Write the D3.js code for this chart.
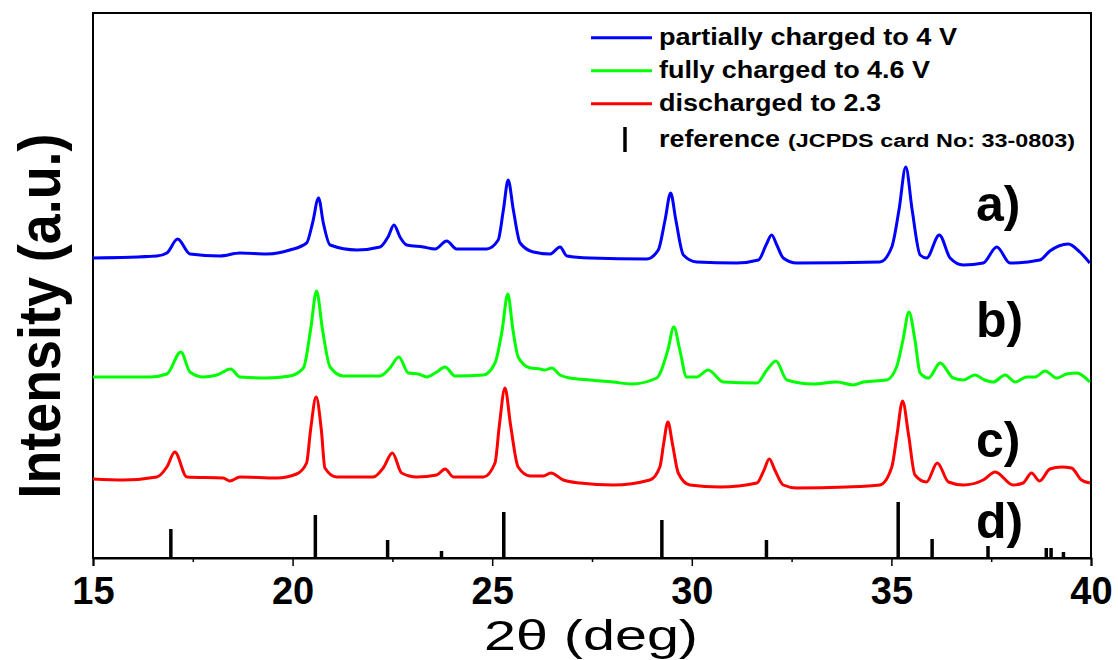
<!DOCTYPE html>
<html>
<head>
<meta charset="utf-8">
<script src="https://cdn.jsdelivr.net/npm/d3@7"></script>
<style>
  html, body { margin: 0; padding: 0; background: #fff; }
  svg { display: block; font-family: "Liberation Sans", Arial, sans-serif; }
</style>
</head>
<body>
<svg id="chart" width="1118" height="660"></svg>
<script>
// XRD patterns, 2θ in degrees; intensities are stacked (offsets included), arbitrary units.
const thetaA = [15.0,16.6,16.85,17.12,17.43,18.18,18.68,19.35,19.93,20.35,20.5,20.65,20.77,20.94,21.61,22.19,22.39,22.54,22.69,22.86,23.27,23.57,23.86,24.11,24.86,25.15,25.28,25.4,25.53,25.7,26.03,26.45,26.7,26.87,27.45,28.87,29.16,29.33,29.47,29.6,29.79,30.12,31.12,31.67,31.86,32.0,32.13,32.29,32.63,34.71,35.01,35.19,35.36,35.52,35.72,35.88,36.2,36.47,36.8,37.3,37.64,37.97,38.72,38.97,39.43,39.72,39.97];
const intensityA = [300,302,305,319,304,302,305,304,308,315,335,360,335,313,308,311,321,333,321,313,311,309,317,309,309,318,348,378,348,315,306,304,311,302,300,299,308,338,365,338,303,296,295,298,313,323,313,300,295,296,311,348,391,348,303,300,323,300,293,295,311,295,298,307,314,306,295];

const thetaB = [15.0,16.43,16.85,17.2,17.43,17.76,18.1,18.45,18.68,19.35,19.93,20.27,20.45,20.6,20.75,20.94,21.27,22.19,22.44,22.66,22.9,23.15,23.36,23.61,23.82,24.07,24.78,25.07,25.25,25.39,25.52,25.65,25.95,26.2,26.32,26.49,26.7,26.95,27.45,28.03,28.49,29.12,29.4,29.55,29.7,29.87,30.12,30.41,30.79,31.63,31.88,32.11,32.38,33.04,33.63,34.05,34.3,34.88,35.13,35.29,35.44,35.59,35.72,35.93,36.22,36.55,36.8,37.09,37.34,37.55,37.85,38.1,38.39,38.6,38.85,39.14,39.39,39.64,39.97];
const intensityB = [181,181,184,206,186,181,183,189,181,180,182,190,228,267,228,191,182,182,190,201,185,184,181,186,191,182,183,195,228,264,228,201,190,189,188,190,183,180,178,176,174,180,208,231,208,181,181,188,176,175,188,197,178,174,176,173,176,178,191,218,246,218,185,180,195,180,178,183,178,176,183,176,181,181,187,180,184,185,176];

const thetaC = [15.0,15.76,16.6,16.85,17.05,17.35,18.26,18.43,18.68,19.6,20.1,20.35,20.45,20.59,20.72,20.81,21.1,22.02,22.27,22.5,22.73,23.11,23.61,23.82,24.03,24.78,25.07,25.18,25.32,25.46,25.65,25.95,26.28,26.47,26.78,27.2,28.03,28.95,29.2,29.29,29.4,29.52,29.66,29.95,30.71,31.63,31.81,31.94,32.08,32.29,32.63,33.88,34.71,35.01,35.14,35.28,35.43,35.59,35.88,36.15,36.43,36.8,37.3,37.6,38.05,38.3,38.51,38.71,38.97,39.26,39.51,39.76,39.97];
const intensityC = [79,78,81,91,106,81,80,77,81,80,84,95,128,161,128,90,81,81,90,105,85,81,83,89,81,81,95,133,170,133,91,82,82,85,78,75,73,78,91,113,136,113,85,73,71,75,88,99,88,73,70,71,73,91,123,157,123,83,76,95,76,73,78,86,73,75,85,77,89,91,90,78,75];

// Reference lines (JCPDS card No: 33-0803)
const refTheta = [16.95,20.57,22.38,23.73,25.29,29.25,31.87,35.17,36.02,37.42,38.88,39.0,39.31];
const refIntensity = [29,43,18,7,46,38,18,56,19,12,10,10,6];

const xTicks = [15,20,25,30,35,40];
const xMinorTicks = [17.5,22.5,27.5,32.5,37.5];

const seriesNames = ["partially charged to 4 V","fully charged to 4.6 V","discharged to 2.3"];
const seriesColors = ["#0000ff","#00ff00","#ff0000"];
const panelLabels = ["a)","b)","c)","d)"];
const panelLabelLevels = [337,221,101,20];

(function draw() {
  const svg = d3.select("#chart");
  const plotLeft = 93, plotRight = 1091, plotTop = 13, plotBottom = 558;

  const x = d3.scaleLinear().domain([15,40]).range([plotLeft,plotRight]);
  const y = d3.scaleLinear().domain([0,545]).range([plotBottom,plotTop]);

  // Plot frame
  svg.append("rect")
    .attr("x", plotLeft).attr("y", plotTop)
    .attr("width", plotRight-plotLeft).attr("height", plotBottom-plotTop)
    .attr("fill","none").attr("stroke","#000").attr("stroke-width",2);

  // Reference sticks
  svg.append("g").selectAll("line").data(refTheta).join("line")
    .attr("x1", d => x(d)).attr("x2", d => x(d))
    .attr("y1", y(0)).attr("y2", (d,i) => y(refIntensity[i]))
    .attr("stroke","#000").attr("stroke-width",3.5);

  // Patterns
  const line = d3.line().x(d => x(d[0])).y(d => y(d[1])).curve(d3.curveMonotoneX);
  const patterns = [
    d3.zip(thetaA, intensityA),
    d3.zip(thetaB, intensityB),
    d3.zip(thetaC, intensityC)
  ];
  svg.append("g").selectAll("path").data(patterns).join("path")
    .attr("d", line)
    .attr("fill","none")
    .attr("stroke",(d,i) => seriesColors[i])
    .attr("stroke-width",3)
    .attr("stroke-linejoin","round");

  // Bottom axis: major ticks with labels, minor ticks unlabelled
  const xAxis = d3.axisBottom(x).tickValues(xTicks).tickSize(8).tickFormat(d3.format("d"));
  const gx = svg.append("g").attr("transform",`translate(0,${plotBottom})`).call(xAxis);
  gx.select(".domain").attr("stroke-width",2);
  gx.selectAll(".tick line").attr("stroke-width",1.5);
  gx.selectAll(".tick text")
    .attr("font-family","'Liberation Sans', Arial, sans-serif")
    .attr("font-size",38).attr("font-weight","bold").attr("fill","#000")
    .attr("dy",0).attr("y",46);

  const xMinor = d3.axisBottom(x).tickValues(xMinorTicks).tickSize(4).tickFormat("");
  const gm = svg.append("g").attr("transform",`translate(0,${plotBottom})`).call(xMinor);
  gm.select(".domain").remove();
  gm.selectAll(".tick line").attr("stroke-width",1.5);

  // Axis titles
  svg.append("text")
    .attr("x", 591).attr("y", 650)
    .attr("text-anchor","middle")
    .attr("font-size",43)
    .attr("textLength",214).attr("lengthAdjust","spacingAndGlyphs")
    .text("2θ (deg)");

  svg.append("text")
    .attr("transform","translate(60,316) rotate(-90)")
    .attr("text-anchor","middle")
    .attr("font-size",60).attr("font-weight","bold")
    .attr("textLength",365).attr("lengthAdjust","spacingAndGlyphs")
    .text("Intensity (a.u.)");

  // Panel labels
  svg.append("g").selectAll("text").data(panelLabels).join("text")
    .attr("x", 976).attr("y", (d,i) => y(panelLabelLevels[i]))
    .attr("font-size",50).attr("font-weight","bold")
    .text(d => d);

  // Legend
  const legend = svg.append("g");
  const nameWidths = [298, 271, 222];
  seriesNames.forEach((name,i) => {
    const ly = 37.7 + i*33;
    legend.append("line")
      .attr("x1",591).attr("x2",652).attr("y1",ly).attr("y2",ly)
      .attr("stroke",seriesColors[i]).attr("stroke-width",3);
    legend.append("text")
      .attr("x",659).attr("y",ly+7)
      .attr("font-size",23).attr("font-weight","bold")
      .attr("textLength",nameWidths[i]).attr("lengthAdjust","spacingAndGlyphs")
      .text(name);
  });
  legend.append("line")
    .attr("x1",625).attr("x2",625).attr("y1",127).attr("y2",152)
    .attr("stroke","#000").attr("stroke-width",3.5);
  legend.append("text")
    .attr("x",659).attr("y",146.5)
    .attr("font-size",23).attr("font-weight","bold")
    .attr("textLength",121).attr("lengthAdjust","spacingAndGlyphs")
    .text("reference");
  legend.append("text")
    .attr("x",788).attr("y",146.5)
    .attr("font-size",18).attr("font-weight","bold")
    .attr("textLength",287).attr("lengthAdjust","spacingAndGlyphs")
    .text("(JCPDS card No: 33-0803)");
})();
</script>
</body>
</html>
